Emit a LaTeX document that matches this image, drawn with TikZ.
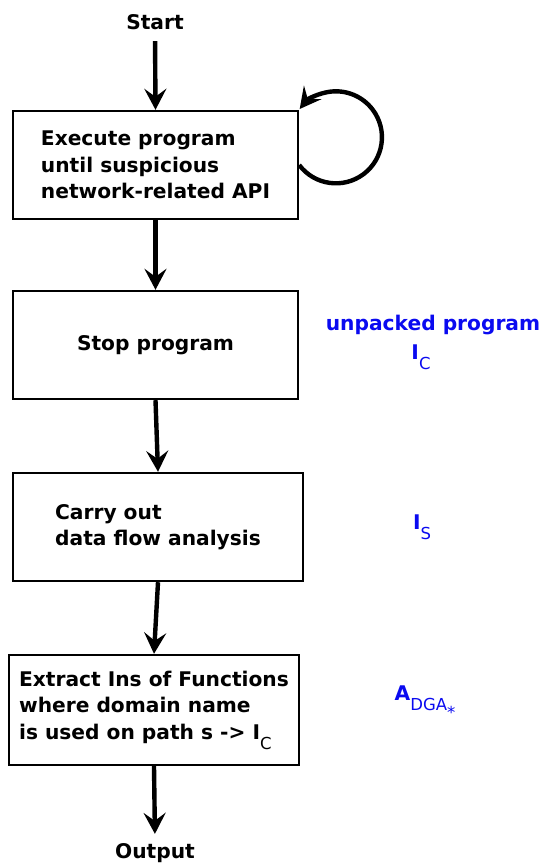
\documentclass[tikz,border=0pt]{standalone}
\usepackage{fontspec}
\setmainfont{DejaVu Sans}
\usetikzlibrary{positioning,arrows.meta}
\definecolor{labelblue}{RGB}{10,10,240}
\newcommand{\lowsub}[1]{\raisebox{-0.9ex}{\mdseries\fontsize{16.5}{16.5}\selectfont #1}}

\begin{document}
\begin{tikzpicture}[x=1pt, y=-1pt,
  every node/.style = {font=\bfseries\fontsize{20.2}{26.5}\selectfont},
  stepbox/.style = {shape=rectangle, draw, line width=2.4pt,
    align=left, inner sep=0pt},
  flow/.style = {draw, line width=4.4pt,
    -{Stealth[length=21pt, width=22pt, inset=8pt]}},
  note/.style = {text=labelblue}
  ]
  \useasboundingbox (0,0) rectangle (547,865);

  \node (start) at (155,22) {Start};
  \node[stepbox, minimum width=285pt, minimum height=108pt] (exec) at (155.5,165)
    {Execute program\\until suspicious\\network-related API};
  \node[stepbox, minimum width=285pt, minimum height=108pt] (stop) at (155.5,345)
    {Stop program};
  \node[stepbox, minimum width=290pt, minimum height=108pt] (flowana) at (158,527)
    {Carry out\\data flow analysis};
  \node[stepbox, minimum width=290pt, minimum height=110pt] (extract) at (154,710)
    {Extract Ins of Functions\\where domain name\\is used on path s -> I\lowsub{C}};
  \node (output) at (155,853) {Output};

  % labels on the right
  \node[note] (unpacked) at (433,325) {unpacked program};
  \node[note] (ic) at (421,357) {I\lowsub{C}};
  \node[note] (is) at (422,527) {I\lowsub{S}};
  \node[note] (adga) at (425,702) {A\lowsub{DGA\lowsub{*}}};

  \draw[flow, shorten <=8pt] (start.south) -- (exec.north);
  \draw[flow] (exec.east) arc[start angle=217, end angle=502, radius=46pt];
  \draw[flow] (exec.south) -- (stop.north);
  \draw[flow] (stop.south) -- (flowana.north);
  \draw[flow] (flowana.south) -- (extract.north);
  \draw[flow, shorten >=6pt] (extract.south) -- (output.north);
\end{tikzpicture}
\end{document}
